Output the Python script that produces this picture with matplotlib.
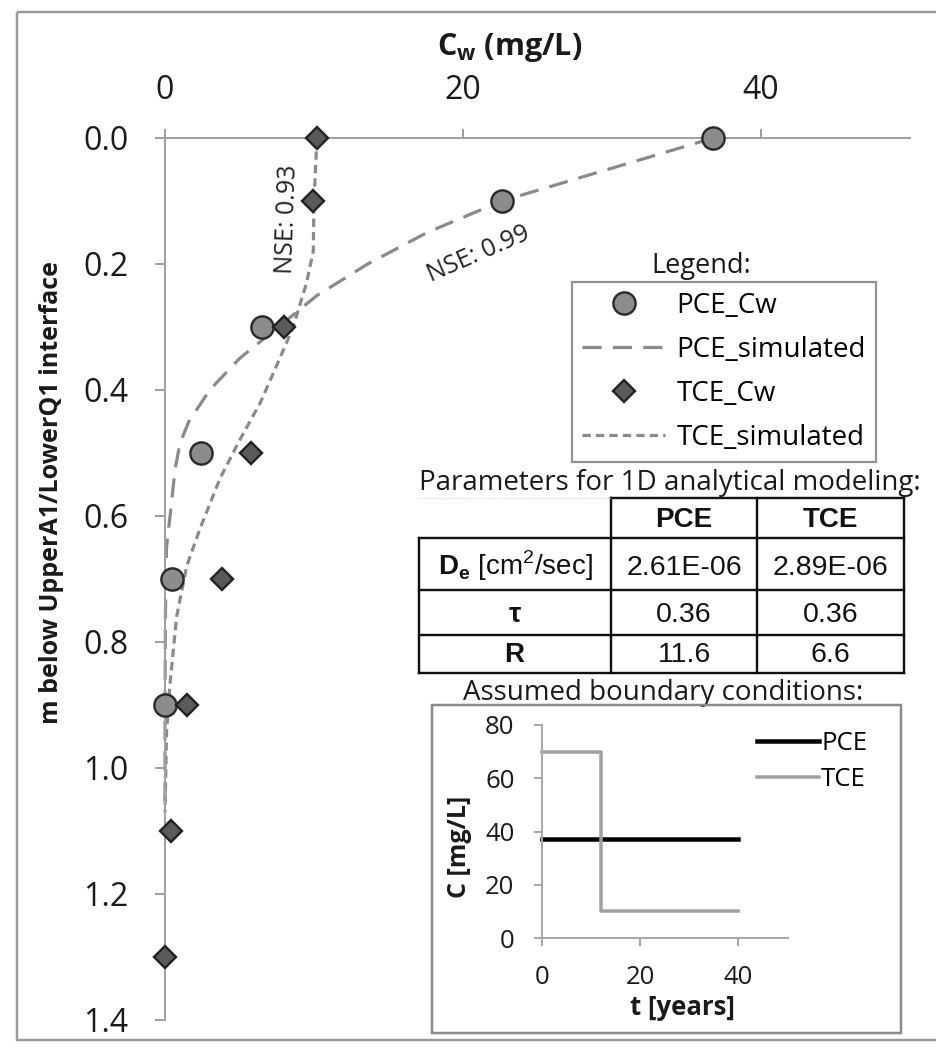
import matplotlib
matplotlib.use("Agg")
import matplotlib.pyplot as plt
from matplotlib.lines import Line2D
from matplotlib.patches import Rectangle

plt.rcParams['font.family'] = ['Open Sans', 'DejaVu Sans']
plt.rcParams['mathtext.fontset'] = 'custom'
plt.rcParams['mathtext.sf'] = 'Open Sans:bold'
plt.rcParams['mathtext.bf'] = 'Liberation Sans:bold'
plt.rcParams['mathtext.rm'] = 'Liberation Sans'

# ---------------- data ----------------
depth_obs_pce = [0.0, 0.1, 0.3, 0.5, 0.7, 0.9]
cw_obs_pce = [36.8, 22.6, 6.5, 2.4, 0.5, 0.0]
depth_obs_tce = [0.0, 0.1, 0.3, 0.5, 0.7, 0.9, 1.1, 1.3]
cw_obs_tce = [10.2, 9.9, 8.0, 5.8, 3.8, 1.5, 0.4, 0.0]

depth_sim_pce = [0.0, 0.1, 0.15, 0.2, 0.25, 0.3, 0.35, 0.4, 0.45, 0.485, 0.527, 0.6, 0.65, 0.75, 0.9, 1.07]
cw_sim_pce = [36.8, 22.6, 17.6, 13.6, 10.2, 7.6, 5.0, 3.0, 1.6, 1.0, 0.67, 0.34, 0.1, 0.03, 0.0, 0.0]
depth_sim_tce = [0.0, 0.1, 0.18, 0.23, 0.3, 0.35, 0.42, 0.48, 0.54, 0.62, 0.68, 0.76, 0.865, 0.945, 1.07]
cw_sim_tce = [10.2, 10.0, 9.95, 9.5, 8.6, 7.7, 6.4, 5.0, 3.7, 2.35, 1.45, 0.78, 0.34, 0.1, 0.0]

nse_pce = "NSE: 0.99"
nse_tce = "NSE: 0.93"

legend_labels = ["PCE_Cw", "PCE_simulated", "TCE_Cw", "TCE_simulated"]

x_ticks = [0, 20, 40]
y_ticks = [0.0, 0.2, 0.4, 0.6, 0.8, 1.0, 1.2, 1.4]

table_cols = ["PCE", "TCE"]
table_rows = [r"$\mathbf{D}_{\mathbf{e}}$ [cm$^{2}$/sec]", r"$\mathbf{\tau}$", r"$\mathbf{R}$"]
table_vals = [["2.61E-06", "2.89E-06"], ["0.36", "0.36"], ["11.6", "6.6"]]

bc_t_pce = [0, 40]
bc_c_pce = [37, 37]
bc_t_tce = [0, 12, 12, 40]
bc_c_tce = [70, 70, 10, 10]
bc_labels = ["PCE", "TCE"]
bc_x_ticks = [0, 20, 40]
bc_y_ticks = [0, 20, 40, 60, 80]

# ---------------- figure ----------------
W, H = 936, 1052
fig = plt.figure(figsize=(W / 100, H / 100), dpi=100)
PX = 72 / 100.0  # points per pixel

# overlay in pixel coordinates
ov = fig.add_axes([0, 0, 1, 1], zorder=0)
ov.set_xlim(0, W)
ov.set_ylim(H, 0)
ov.axis('off')

def fx(x):
    return x / W

def fy(y):
    return 1 - y / H

# outer frame
ov.add_patch(Rectangle((17, 12), 940, 1028, fill=False, edgecolor='#9a9a9a', lw=2.5 * PX))

# main axes
x0, x1 = 165, 165 + 50 * 14.9
ytop, ybot = 138, 1020
ax = fig.add_axes([fx(x0), fy(ybot), (x1 - x0) / W, (ybot - ytop) / H], zorder=1)
ax.set_facecolor('none')
ax.set_xlim(0, 50)
ax.set_ylim(1.4, 0)
for s in ['right', 'bottom']:
    ax.spines[s].set_visible(False)
for s in ['top', 'left']:
    ax.spines[s].set_color('#a0a0a0')
    ax.spines[s].set_linewidth(2.0 * PX)
ax.xaxis.tick_top()
ax.set_xticks(x_ticks)
ax.set_yticks(y_ticks)
ax.set_yticklabels([f"{v:.1f}" for v in y_ticks])
ax.tick_params(axis='x', direction='out', length=9 * PX, width=2 * PX, color='#a0a0a0',
               labelsize=23, labelcolor='#1a1a1a', pad=16)
ax.tick_params(axis='y', direction='out', length=10 * PX, width=2 * PX, color='#a0a0a0',
               labelsize=23, labelcolor='#1a1a1a', pad=19)

lw_sim = 3.2 * PX
ax.plot(cw_sim_pce, depth_sim_pce, color='#8a8a8a', lw=lw_sim, dashes=(6, 3.5), clip_on=False, zorder=2)
ax.plot(cw_sim_tce, depth_sim_tce, color='#8a8a8a', lw=lw_sim, dashes=(2.6, 1.6), clip_on=False, zorder=2)
ax.plot(cw_obs_pce, depth_obs_pce, linestyle='none', marker='o', ms=16, mfc='#8c8c8c', mec='#2a2a2a',
        mew=2.4 * PX, clip_on=False, zorder=3)
ax.plot(cw_obs_tce, depth_obs_tce, linestyle='none', marker='D', ms=11.5, mfc='#5a5a5a', mec='#222222',
        mew=2.4 * PX, clip_on=False, zorder=3)

# NSE annotations
ov.text(287, 219, nse_tce, rotation=88, ha='center', va='center', fontsize=18, color='#222222', zorder=5)
ov.text(479, 254, nse_pce, rotation=23.5, ha='center', va='center', fontsize=18, color='#222222', zorder=5)

# title & y label
ov.text(510, 55, r"$\mathsf{C}_{\mathsf{w}}$ (mg/L)", ha='center', va='baseline', fontsize=22,
        fontweight='bold', color='#1a1a1a')
ov.text(52, 492, "m below UpperA1/LowerQ1 interface", rotation=90, ha='center', va='center',
        fontsize=18, fontweight='bold', color='#1a1a1a')

# legend
ov.text(701, 273, "Legend:", ha='center', va='baseline', fontsize=19.5, color='#1a1a1a')
handles = [
    Line2D([], [], linestyle='none', marker='o', ms=16, mfc='#8c8c8c', mec='#2a2a2a', mew=2.4 * PX),
    Line2D([], [], color='#8a8a8a', lw=lw_sim, dashes=(6, 3.5)),
    Line2D([], [], linestyle='none', marker='D', ms=11.5, mfc='#5a5a5a', mec='#222222', mew=2.4 * PX),
    Line2D([], [], color='#8a8a8a', lw=lw_sim, dashes=(2.6, 1.6)),
]
leg = fig.legend(handles, legend_labels, loc='upper left', bbox_to_anchor=(fx(572), fy(282)),
                 fontsize=20, frameon=True, fancybox=False, edgecolor='#777777', borderaxespad=0,
                 handlelength=3.0, handletextpad=0.4, labelspacing=0.575, borderpad=0.36)
leg.get_frame().set_linewidth(2.2 * PX)
leg.set_zorder(6)

# parameters table
ov.text(670, 490, "Parameters for 1D analytical modeling:", ha='center', va='baseline', fontsize=20,
        color='#1a1a1a')
col_x = [419, 611, 757, 904]
row_y = [498, 538, 590, 635, 673]
tlw = 2.4 * PX
tc = '#111111'
ov.plot([col_x[1], col_x[3]], [row_y[0], row_y[0]], color=tc, lw=tlw, solid_capstyle='projecting')
for yy in row_y[1:]:
    ov.plot([col_x[0], col_x[3]], [yy, yy], color=tc, lw=tlw, solid_capstyle='projecting')
ov.plot([col_x[0], col_x[0]], [row_y[1], row_y[4]], color=tc, lw=tlw, solid_capstyle='projecting')
for xx in col_x[1:]:
    ov.plot([xx, xx], [row_y[0], row_y[4]], color=tc, lw=tlw, solid_capstyle='projecting')
ov.plot([col_x[0], col_x[1]], [row_y[0], row_y[0]], color='#cccccc', lw=1 * PX, ls=':')
col_c = [(col_x[i] + col_x[i + 1]) / 2 for i in range(3)]
base_y = [527, 575, 622, 662]
for j, name in enumerate(table_cols):
    ov.text(col_c[j + 1], base_y[0], name, ha='center', va='baseline', fontsize=20,
            family='Liberation Sans', fontweight='bold', color='#111111')
for i, rl in enumerate(table_rows):
    ov.text(col_c[0], base_y[i + 1], rl, ha='center', va='baseline', fontsize=20,
            family='Liberation Sans', color='#111111')
    for j in range(2):
        ov.text(col_c[j + 1], base_y[i + 1], table_vals[i][j], ha='center', va='baseline', fontsize=20.5,
                family='Liberation Sans', color='#111111')

# boundary conditions inset
ov.text(663, 700, "Assumed boundary conditions:", ha='center', va='baseline', fontsize=20, color='#1a1a1a')
ov.add_patch(Rectangle((432, 705), 469, 328, fill=False, edgecolor='#8a8a8a', lw=2.5 * PX, zorder=4))

bx0, by0 = 542, 938
bsx, bsy = 4.91, 213 / 80
bx = fig.add_axes([fx(bx0), fy(by0), 50 * bsx / W, 80 * bsy / H], zorder=2)
bx.set_facecolor('none')
bx.set_xlim(0, 50)
bx.set_ylim(0, 80)
for s in ['right', 'top']:
    bx.spines[s].set_visible(False)
for s in ['left', 'bottom']:
    bx.spines[s].set_color('#a8a8a8')
    bx.spines[s].set_linewidth(2 * PX)
bx.set_xticks(bc_x_ticks)
bx.set_yticks(bc_y_ticks)
bx.tick_params(direction='out', length=8 * PX, width=2 * PX, color='#a8a8a8', labelsize=18.5,
               labelcolor='#1a1a1a')
bx.tick_params(axis='x', pad=14)
bx.tick_params(axis='y', pad=14)
bx.plot(bc_t_pce, bc_c_pce, color='#000000', lw=4.5 * PX, label=bc_labels[0], clip_on=False)
bx.plot(bc_t_tce, bc_c_tce, color='#a0a0a0', lw=3.5 * PX, label=bc_labels[1], clip_on=False)
bleg = bx.legend(loc='upper left', bbox_to_anchor=((757 - bx0) / (50 * bsx), 0.97), frameon=False,
                 fontsize=18.5, handlelength=2.4, handletextpad=0.1, labelspacing=0.4, borderpad=0,
                 borderaxespad=0)
ov.text(459, 847, "C [mg/L]", rotation=90, ha='center', va='center', fontsize=18, fontweight='bold',
        color='#1a1a1a')
ov.text(682, 1015, "t [years]", ha='center', va='baseline', fontsize=18.5, fontweight='bold', color='#1a1a1a')

fig.savefig("out.png", dpi=100)
